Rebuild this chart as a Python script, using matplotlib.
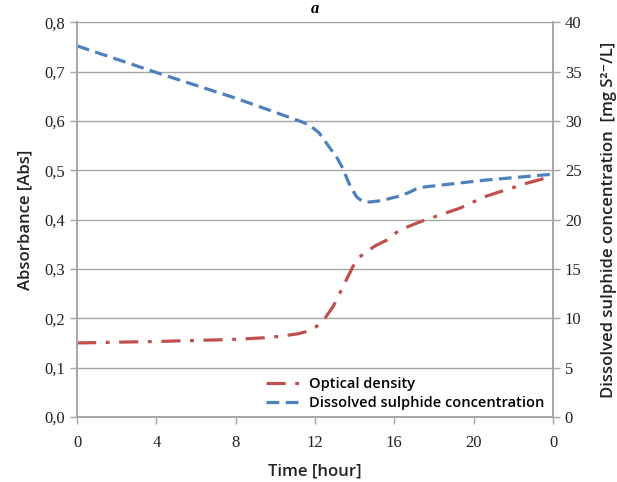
import matplotlib
matplotlib.use("Agg")
import matplotlib.pyplot as plt

# optical density (left axis)
od_time = [0, 4, 7.8, 9.7, 10.7, 11.2, 11.55, 12.06, 12.5, 12.9, 13.24, 13.57, 13.9,
           14.16, 14.58, 15.09, 15.6, 16.27, 17.4, 19.3, 20.6, 22.7, 24]
od_values = [0.150, 0.153, 0.157, 0.161, 0.166, 0.169, 0.173, 0.183, 0.200, 0.223, 0.250,
             0.277, 0.304, 0.321, 0.335, 0.348, 0.358, 0.379, 0.397, 0.423, 0.447, 0.474, 0.488]

# dissolved sulphide (right axis)
s_time = [0, 4, 8, 11.2, 11.7, 12.2, 12.7, 13.1, 13.4, 13.6, 13.8, 14.1, 14.35, 14.6,
          15.3, 16.3, 16.8, 17.1, 17.5, 20.6, 24]
s_values = [37.6, 34.9, 32.3, 30.0, 29.6, 28.8, 27.4, 26.3, 25.2, 24.2, 23.3, 22.3, 21.9,
            21.75, 21.9, 22.4, 22.8, 23.1, 23.3, 24.0, 24.6]

x_ticks = [0, 4, 8, 12, 16, 20, 24]
x_labels = ["0", "4", "8", "12", "16", "20", "0"]
left_ticks = [0, 0.1, 0.2, 0.3, 0.4, 0.5, 0.6, 0.7, 0.8]
left_labels = ["0,0", "0,1", "0,2", "0,3", "0,4", "0,5", "0,6", "0,7", "0,8"]
right_ticks = [0, 5, 10, 15, 20, 25, 30, 35, 40]

red = "#C0504D"
blue = "#4F81BD"
grey = "#A6A6A6"

fig = plt.figure(figsize=(6.17, 4.82), dpi=100)
ax = fig.add_axes([0.1248, 0.1349, 0.7715, 0.8191])
ax2 = ax.twinx()

l1, = ax.plot(od_time, od_values, color=red, lw=2.3, dashes=(6, 3, 1.2, 3),
              label="Optical density")
l2, = ax2.plot(s_time, s_values, color=blue, lw=2.3, dashes=(4, 2),
               label="Dissolved sulphide concentration")

ax.set_xlim(0, 24)
ax.set_ylim(0, 0.8)
ax2.set_ylim(0, 40)
ax.set_xticks(x_ticks)
ax.set_xticklabels(x_labels)
ax.set_yticks(left_ticks)
ax.set_yticklabels(left_labels)
ax2.set_yticks(right_ticks)

ax.grid(axis="y", color=grey, lw=1)
ax.set_axisbelow(True)
for a in (ax, ax2):
    a.spines["top"].set_visible(False)
    for s in ("left", "right", "bottom"):
        a.spines[s].set_color(grey)
        a.spines[s].set_linewidth(1.2)
    a.tick_params(colors=grey, length=5, width=1, labelcolor="#222222",
                  labelsize=12)
    for t in a.get_xticklabels() + a.get_yticklabels():
        t.set_fontfamily("Liberation Serif")
ax.tick_params(axis="x", pad=8)

lab_font = dict(family=["Open Sans", "DejaVu Sans"], fontsize=12,
                fontweight="semibold", color="#222222")
ax.set_xlabel("Time [hour]", labelpad=9, **lab_font)
ax.set_ylabel("Absorbance [Abs]", labelpad=8, **lab_font)
ax2.set_ylabel("Dissolved sulphide concentration  [mg S²⁻/L]", labelpad=14, **lab_font)

leg = ax.legend(handles=[l1, l2], loc="lower left", bbox_to_anchor=(0.37, -0.015),
                frameon=False, handlelength=2.6, handletextpad=0.3,
                labelspacing=0.3,
                prop=dict(family="Open Sans", size=10.5, weight="semibold"))

fig.text(0.51, 0.998, "a", ha="center", va="top", fontsize=12, style="italic",
         fontweight="bold", family="Liberation Serif")

fig.savefig("out.png", dpi=100)
